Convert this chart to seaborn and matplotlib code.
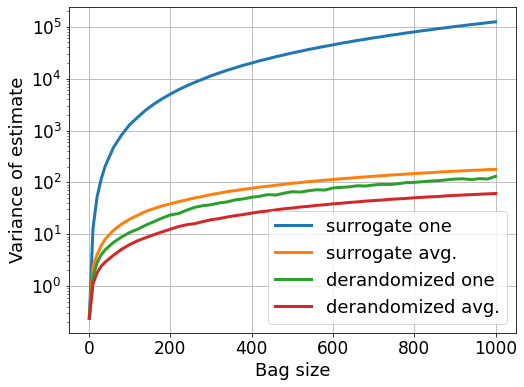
import numpy as np
import pandas as pd
import matplotlib
matplotlib.use("Agg")
import matplotlib.pyplot as plt
import seaborn as sns

# bag sizes sampled along the x axis
bag_size = [1, 10, 20, 30, 40, 60, 80, 100, 120, 140, 160, 180, 200, 220, 240, 260,
            280, 300, 320, 340, 360, 380, 400, 420, 440, 460, 480, 500, 520, 540,
            560, 580, 600, 620, 640, 660, 680, 700, 720, 740, 760, 780, 800, 820,
            840, 860, 880, 900, 920, 940, 960, 980, 1000]

# variance values
surrogate_one = [0.24, 13, 52, 115, 205, 465, 815, 1290, 1810, 2490, 3240, 4100, 5030,
                 6120, 7230, 8520, 9780, 11350, 12850, 14550, 16250, 18200, 20000,
                 22200, 24200, 26600, 28800, 31400, 33800, 36600, 39200, 42100, 44900,
                 48200, 51200, 54600, 57700, 61400, 64600, 68600, 72000, 76200, 79800,
                 84200, 88000, 92700, 96500, 101500, 105500, 110700, 115000, 120300,
                 125000]
surrogate_avg = [0.24, 2.4, 4.0, 6.0, 8.0, 11.8, 15.6, 19.5, 23.2, 27.6, 31.2, 35.2, 38.5,
                 42.3, 46.0, 50.2, 53.6, 58.1, 61.8, 66.2, 69.6, 73.4, 77.0, 81.2, 84.0,
                 88.3, 91.6, 96.2, 99.0, 103.4, 106.5, 110.2, 113.5, 117.4, 120.6,
                 124.3, 127.6, 131.2, 134.0, 138.3, 140.8, 144.5, 147.6, 151.3, 153.8,
                 158.2, 160.6, 164.3, 166.8, 170.4, 172.6, 176.5, 178.0]
derandomized_one = [0.24, 1.5, 2.8, 4.0, 5.0, 6.9, 8.8, 10.8, 12.5, 15.0, 17.5, 20.5,
                    23.5, 25.0, 29.0, 33.0, 35.5, 37.0, 40.0, 42.0, 46.0, 48.0, 51.5,
                    54.0, 58.0, 57.0, 62.0, 66.0, 65.0, 69.0, 72.0, 71.0, 78.0, 80.0,
                    82.0, 86.0, 85.0, 89.0, 92.0, 91.0, 94.0, 99.0, 100.0, 103.0,
                    106.0, 108.0, 112.0, 116.0, 117.0, 113.0, 118.0, 116.0, 131.0]
derandomized_avg = [0.24, 1.1, 1.8, 2.4, 2.9, 3.9, 5.1, 6.3, 7.5, 8.6, 9.8, 11.1, 12.5,
                    14.0, 15.2, 16.0, 17.5, 19.0, 20.0, 21.5, 22.8, 24.0, 25.5, 27.0,
                    28.0, 29.5, 31.0, 32.0, 33.5, 34.5, 36.0, 37.0, 38.5, 39.5, 41.0,
                    42.0, 43.5, 44.5, 45.5, 47.0, 48.0, 49.0, 50.5, 51.5, 52.5, 53.5,
                    55.0, 56.0, 57.0, 58.0, 59.0, 60.0, 61.0]

series = {
    "surrogate one": surrogate_one,
    "surrogate avg.": surrogate_avg,
    "derandomized one": derandomized_one,
    "derandomized avg.": derandomized_avg,
}
colors = sns.color_palette("tab10", 4)

fig, ax = plt.subplots(figsize=(524 / 72, 387 / 72), dpi=72)
for (name, vals), c in zip(series.items(), colors):
    df = pd.DataFrame({"x": bag_size, "y": vals})
    sns.lineplot(data=df, x="x", y="y", ax=ax, color=c, linewidth=3, label=name)

ax.set_yscale("log")
ax.grid(True, which="major", color="#b0b0b0", linewidth=0.8)
ax.set_xticks([0, 200, 400, 600, 800, 1000])
ax.tick_params(labelsize=17)
ax.set_xlabel("Bag size", fontsize=18)
ax.set_ylabel("Variance of estimate", fontsize=18)
ax.legend(loc="lower right", fontsize=18)

plt.subplots_adjust(left=69 / 524, right=516 / 524, top=1 - 7 / 387, bottom=1 - 333 / 387)
plt.savefig("out.png", dpi=72)
